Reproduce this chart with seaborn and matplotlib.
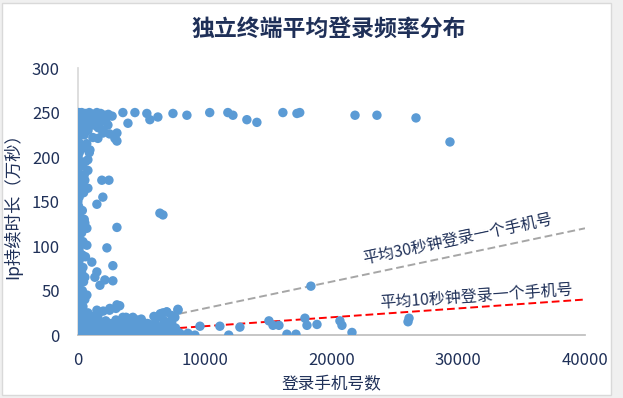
import numpy as np
import pandas as pd
import seaborn as sns
import matplotlib.pyplot as plt
from matplotlib.patches import Rectangle

# column of points hugging x=0
col_x = [0, 90, 150, 20, 110, 60, 0, 140, 80, 30, 120, 50, 0, 100, 150, 40, 70, 130, 10, 90,
         150, 60, 0, 110, 40, 140, 20, 80, 130, 50, 0, 100, 150, 70, 30, 120, 60, 0, 90, 140,
         20, 110, 50, 150, 0, 80, 130, 40, 100, 10, 60]
col_y = [0, 5, 10, 15, 20, 25, 30, 35, 40, 45, 50, 55, 60, 65, 70, 75, 80, 85, 90, 95,
         100, 105, 110, 115, 120, 125, 130, 135, 140, 145, 150, 155, 160, 165, 170, 175, 180, 185, 190, 195,
         200, 205, 210, 215, 220, 225, 230, 235, 240, 245, 250]

# near-column filler
near_x = [400, 600, 800, 500, 700, 400, 900, 600, 350, 500, 300, 450, 350, 500, 300, 400, 350, 600,
          300, 450, 350, 550, 400]
near_y = [240, 235, 230, 225, 215, 210, 205, 195, 190, 180, 170, 160, 140, 130, 115, 105, 90, 88,
          70, 60, 50, 40, 32]

# top blob
top_x = [300, 600, 900, 1200, 1500, 1800, 2100, 2400, 2700, 500, 1000, 1400, 1900, 2200, 800, 1200,
         1600, 2000, 2500, 3550, 4500, 5440, 5680, 6310, 3950, 7500, 8600, 10400, 11830, 12230,
         13330, 14120, 16170, 17280, 17500, 21860, 23590, 26670, 29350]
top_y = [250, 249, 250, 248, 250, 249, 247, 248, 246, 244, 243, 245, 242, 240, 238, 236,
         233, 230, 226, 250, 250, 249, 242, 245, 238, 249, 247, 250, 250, 247,
         242, 239, 250, 249, 250, 247, 247, 244, 217]

# scattered middle points
mid_x = [790, 1500, 1740, 1180, 1580, 1970, 2370, 3080, 2920, 3080, 950, 790, 790, 550, 1890, 2450,
         790, 1970, 1500, 6470, 6710, 3080, 710, 550, 710, 2290, 1100, 1500, 1340, 1740, 2130,
         2760, 2760, 710, 400, 550]
mid_y = [236, 242, 239, 222, 221, 227, 236, 227, 221, 218, 208, 197, 185, 174, 174, 174,
         165, 155, 147, 137, 135, 121, 120, 126, 101, 98, 82, 71, 65, 56, 62,
         78, 61, 45, 76, 65]

# dense low band
low_x = [300, 700, 1100, 1500, 1900, 2300, 2700, 3100, 3500, 3900, 4300, 4700, 5100, 5500, 5900,
         6300, 6700, 7100, 7500, 7900,
         400, 900, 1300, 1700, 2100, 2500, 2900, 3300, 3700, 4100, 4500, 4900, 5300, 5700, 6100,
         6500, 6900, 7300, 7700,
         250, 600, 1000, 1400, 1800, 2200, 2600, 3000, 3400, 3900, 4400, 4900, 5500, 6100, 6800, 7400,
         300, 700, 1100, 1600, 2000, 2500, 3000, 3300, 3800, 4300, 5000, 6000, 6500, 7000, 7400, 7900,
         790, 1500, 2520, 3080, 3550, 4340, 4660, 5440, 6230, 6710, 7020, 7890, 7650, 7260, 6470,
         5680, 4890, 3870, 2760, 1970, 1500, 8050, 8680, 9230,
         200, 600, 1000, 1300, 1700, 2100, 2500, 2800]
low_y = [2, 1, 3, 1, 2, 0, 3, 1, 2, 0, 3, 1, 2, 0, 3,
         1, 2, 0, 1, 3,
         8, 10, 7, 9, 8, 11, 7, 9, 8, 10, 6, 9, 7, 11, 8,
         6, 9, 7, 8,
         15, 17, 14, 18, 15, 16, 13, 17, 14, 16, 13, 15, 13, 14, 16, 14,
         22, 24, 21, 23, 27, 28, 30, 33, 20, 19, 18, 21, 24, 26, 22, 28,
         25, 28, 30, 34, 20, 20, 17, 13, 20, 25, 26, 29, 20, 15, 9,
         2, 6, 6, 9, 11, 2, 2, 2, 0,
         5, 4, 12, 4, 12, 4, 10, 5]

# points out along the reference lines
far_x = [9630, 11200, 11900, 12780, 15070, 15390, 15860, 16490, 17200, 17910, 18070, 18380,
         18860, 20670, 20830, 21620, 26040, 26120]
far_y = [10, 10, 0, 9, 16, 11, 11, 1, 1, 19, 11, 55,
         12, 16, 11, 3, 15, 19]

line_x = [8000, 40000]
line30_y = [24, 120]
line10_y = [8, 40]

df = pd.DataFrame({
    "x": col_x + near_x + top_x + mid_x + low_x + far_x,
    "y": col_y + near_y + top_y + mid_y + low_y + far_y,
})

sns.set_theme(style="white")
plt.rcParams["font.family"] = ["Noto Sans CJK SC", "DejaVu Sans"]
navy = "#1F3058"

fig = plt.figure(figsize=(6.23, 3.98), dpi=100)
fig.patch.set_facecolor("#F0F0F0")
fig.patches.append(Rectangle((0.004, 0.008), 0.976, 0.985, transform=fig.transFigure,
                             facecolor="white", edgecolor="#D9D9D9", lw=1, zorder=-1))
ax = fig.add_axes([0.125, 0.158, 0.814, 0.671])
ax.set_facecolor("none")

sns.lineplot(x=line_x, y=line30_y, ax=ax, color="#A6A6A6", lw=1.4, linestyle=(0, (4, 2)), zorder=1)
sns.lineplot(x=line_x, y=line10_y, ax=ax, color="#FF0000", lw=1.4, linestyle=(0, (4, 2)), zorder=1)
sns.scatterplot(data=df, x="x", y="y", ax=ax, color="#5B9BD5", s=46, edgecolor="none",
                alpha=1, zorder=2)

ax.set_xlim(0, 40000)
ax.set_ylim(0, 300)
ax.set_xticks([0, 10000, 20000, 30000, 40000])
ax.set_yticks([0, 50, 100, 150, 200, 250, 300])
ax.tick_params(axis="both", length=0, labelsize=12, labelcolor=navy)
ax.tick_params(axis="x", pad=12)
ax.tick_params(axis="y", pad=13)
for s in ["top", "right"]:
    ax.spines[s].set_visible(False)
ax.spines["left"].set_color("#D9D9D9")
ax.spines["bottom"].set_color("#BFBFBF")
ax.spines["left"].set_zorder(0)
ax.spines["bottom"].set_zorder(0)
ax.set_xlabel("登录手机号数", fontsize=12, color=navy)
ax.set_ylabel("Ip持续时长（万秒）", fontsize=12.5, color=navy)
ax.xaxis.set_label_coords(0.5, -0.155)
ax.yaxis.set_label_coords(-0.11, 0.5)

ax.text(29980, 107, "平均30秒钟登录一个手机号", rotation=12, ha="center", va="center",
        fontsize=11.5, color=navy, rotation_mode="anchor")
ax.text(31400, 43, "平均10秒钟登录一个手机号", rotation=4, ha="center", va="center",
        fontsize=11.5, color=navy, rotation_mode="anchor")

fig.text(0.528, 0.925, "独立终端平均登录频率分布", ha="center", va="center",
         fontsize=16.5, fontweight="heavy", color=navy)

fig.savefig("out.png", dpi=100)
